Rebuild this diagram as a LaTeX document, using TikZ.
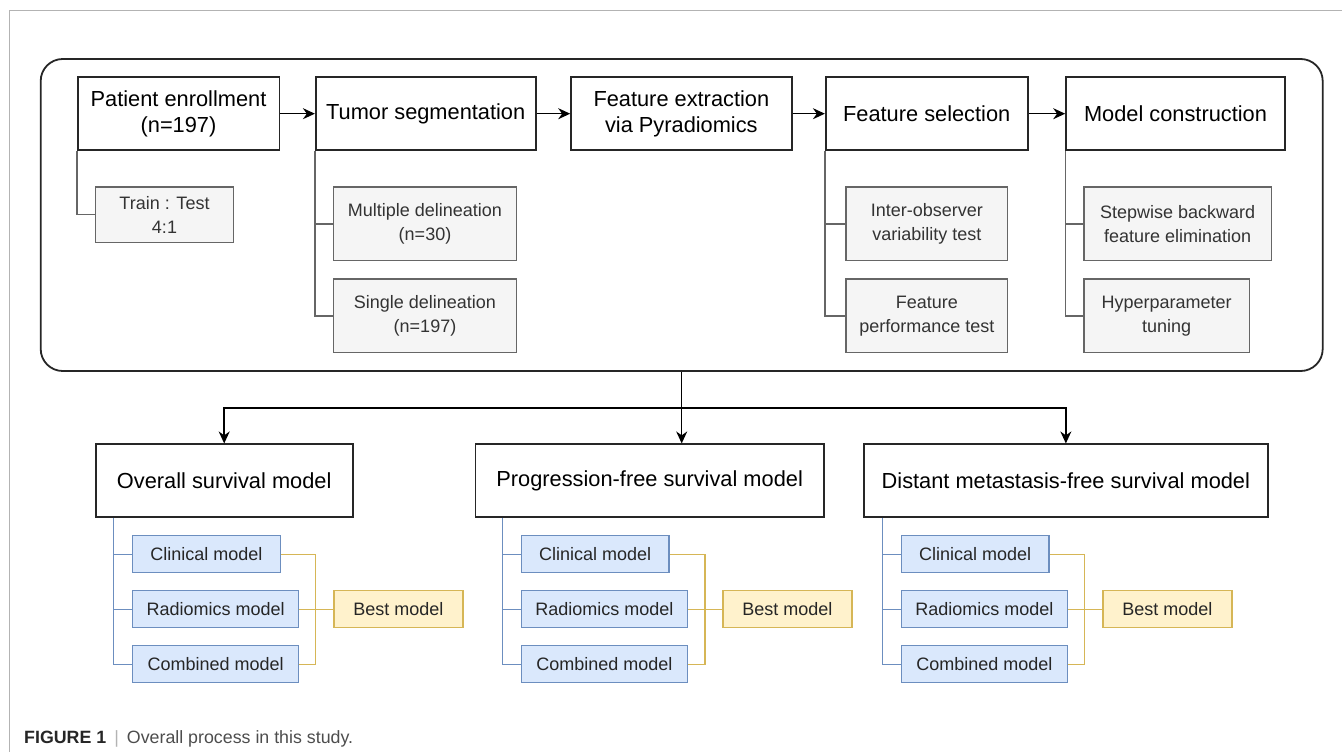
\documentclass[tikz,border=0pt]{standalone}
\usepackage{fontspec}
\setmainfont{Liberation Sans}
\usetikzlibrary{arrows.meta}

\definecolor{taskfill}{HTML}{F5F5F5}
\definecolor{taskdraw}{HTML}{666666}
\definecolor{tasktext}{HTML}{333333}
\definecolor{modelfill}{HTML}{DAE8FC}
\definecolor{modeldraw}{HTML}{6C8EBF}
\definecolor{bestfill}{HTML}{FFF2CC}
\definecolor{bestdraw}{HTML}{D6B656}
\definecolor{framegray}{HTML}{B3B3B3}
\definecolor{captext}{HTML}{4D4D4D}

\tikzset{
  stage/.style={draw=black!85, line width=1.6pt, fill=white, align=center, inner sep=0pt,
    minimum height=73pt, font=\fontsize{21.8}{25.5}\selectfont},
  task/.style={draw=taskdraw, line width=1.3pt, fill=taskfill, text=tasktext, align=center,
    inner sep=0pt, minimum height=73.7pt, font=\fontsize{18}{24}\selectfont},
  model/.style={draw=modeldraw, line width=1.3pt, fill=modelfill, text=black!85, inner sep=0pt,
    minimum height=37pt, font=\fontsize{18}{22}\selectfont},
  best/.style={draw=bestdraw, line width=1.3pt, fill=bestfill, text=black!85, inner sep=0pt,
    minimum height=37pt, minimum width=129pt, font=\fontsize{18}{22}\selectfont},
  flow/.style={line width=1.5pt, -{Stealth[length=12pt, width=11pt]}},
  grayline/.style={draw=taskdraw, line width=1.3pt},
  blueline/.style={draw=modeldraw, line width=1.3pt},
  goldline/.style={draw=bestdraw, line width=1.3pt}
}

\begin{document}
\begin{tikzpicture}[x=1pt, y=-1pt]
  \useasboundingbox (0,0) rectangle (1342,752);
  \draw[framegray, line width=1pt] (9,752) -- (9,10.5) -- (1342,10.5);

  % pipeline frame
  \node[draw=black!85, line width=1.8pt, rounded corners=22pt, minimum width=1282pt,
    minimum height=312pt] (pipeline) at (681.7,215) {};

  % top row
  \node[stage, minimum width=201.6pt] (enroll) at (178.5,113.7) {Patient enrollment\\(n=197)};
  \node[stage, minimum width=220pt] (seg) at (425.7,113.7) {Tumor segmentation};
  \node[stage, minimum width=220.7pt] (extract) at (681.35,113.7) {Feature extraction\\via Pyradiomics};
  \node[stage, minimum width=202pt] (select) at (926.7,113.7) {Feature selection};
  \node[stage, minimum width=219pt] (construct) at (1175.5,113.7) {Model construction};

  \draw[flow] (enroll) -- (seg);
  \draw[flow] (seg) -- (extract);
  \draw[flow] (extract) -- (select);
  \draw[flow] (select) -- (construct);

  % sub tasks
  \node[task, minimum width=137.6pt, minimum height=55.3pt] (split) at (164.5,214.65) {Train : Test\\4:1};
  \node[task, minimum width=183.4pt] (multi) at (425,223.85) {Multiple delineation\\(n=30)};
  \node[task, minimum width=183.4pt] (single) at (425,315.85) {Single delineation\\(n=197)};
  \node[task, minimum width=161.7pt] (interobs) at (926.85,223.85) {Inter-observer\\variability test};
  \node[task, minimum width=161.7pt] (featperf) at (926.85,315.85) {Feature\\performance test};
  \node[task, minimum width=187.3pt] (stepwise) at (1177.65,223.85) {Stepwise backward\\feature elimination};
  \node[task, minimum width=165.3pt] (hyper) at (1166.65,315.85) {Hyperparameter\\tuning};

  \draw[grayline] (enroll.south west) |- (split.west);
  \draw[grayline] (seg.south west) |- (multi.west);
  \draw[grayline] (seg.south west) |- (single.west);
  \draw[grayline] (select.south west) |- (interobs.west);
  \draw[grayline] (select.south west) |- (featperf.west);
  \draw[grayline] (construct.south west) |- (stepwise.west);
  \draw[grayline] (construct.south west) |- (hyper.west);

  % survival models
  \node[stage, minimum width=257pt] (os) at (224.2,480.75) {Overall survival model};
  \node[stage, minimum width=348.7pt] (pfs) at (649.65,480.75) {Progression-free survival model};
  \node[stage, minimum width=403.7pt] (dmfs) at (1065.85,480.75) {Distant metastasis-free survival model};

  \coordinate (fork) at ([yshift=-36.3pt]pipeline.south);
  \draw[flow] (pipeline.south) -- (fork |- pfs.north);
  \draw[flow] (fork) -| (os.north);
  \draw[flow] (fork) -| (dmfs.north);

  \foreach \g/\sh/\lx/\vx/\bl in {os/18.6/132/315.7/333.3, pfs/28/520.7/705/722.3, dmfs/19/900.7/1084.3/1102.3}{
    \node[model, minimum width=147.6pt, anchor=west] (\g-clin) at (\lx,554.2) {Clinical model};
    \node[model, minimum width=166pt, anchor=west] (\g-rad) at (\lx,609.2) {Radiomics model};
    \node[model, minimum width=166pt, anchor=west] (\g-comb) at (\lx,664.2) {Combined model};
    \node[best, anchor=west] (\g-best) at (\bl,609.2) {Best model};
    \coordinate (\g-join) at (\vx,609.2);
    \draw[blueline] ([xshift=\sh pt]\g.south west) |- (\g-clin.west);
    \draw[blueline] ([xshift=\sh pt]\g.south west) |- (\g-rad.west);
    \draw[blueline] ([xshift=\sh pt]\g.south west) |- (\g-comb.west);
    \draw[goldline] (\g-clin.east) -| (\g-join);
    \draw[goldline] (\g-comb.east) -| (\g-join);
    \draw[goldline] (\g-rad.east) -- (\g-best.west);
  }

  % caption
  \node[anchor=base west, inner sep=0pt, text=captext, font=\fontsize{17.8}{20}\selectfont] (caption)
    at (24,743.3) {\textbf{\color{black!85}FIGURE 1}\hspace{0.45em}{\color{framegray}|}\hspace{0.45em}Overall process in this study.};
\end{tikzpicture}
\end{document}
